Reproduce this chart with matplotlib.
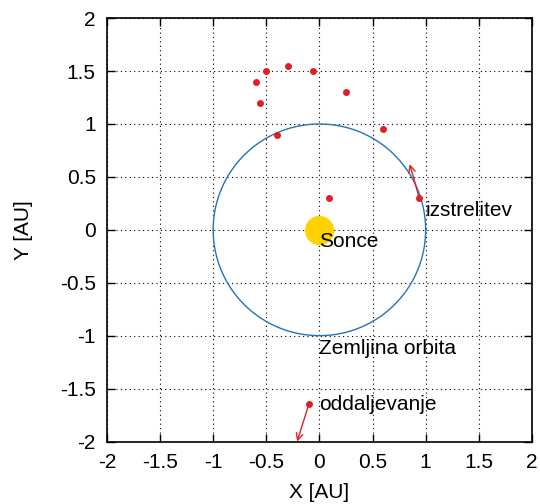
import matplotlib.pyplot as plt
import numpy as np

plt.rcParams["font.family"] = ["Liberation Sans", "DejaVu Sans"]

# asteroid positions [AU]
ast_x = [-0.5, -0.3, -0.06, -0.6, -0.56, 0.25, 0.6, -0.4, 0.09, 0.94, -0.1]
ast_y = [1.5, 1.55, 1.5, 1.4, 1.2, 1.3, 0.95, 0.9, 0.3, 0.3, -1.65]

# velocity arrows: start -> end
arr_start = [(0.94, 0.3), (-0.1, -1.65)]
arr_end = [(0.85, 0.62), (-0.21, -2.0)]

labels = ["Sonce", "izstrelitev", "Zemljina orbita", "oddaljevanje"]
label_pos = [(0.0, -0.11), (1.0, 0.18), (0.0, -1.12), (0.0, -1.65)]

ticks = np.arange(-2, 2.01, 0.5)
tick_labels = ["-2", "-1.5", "-1", "-0.5", "0", "0.5", "1", "1.5", "2"]

fig = plt.figure(figsize=(5.4, 5.04), dpi=100)
ax = fig.add_axes([0.198, 0.124, 0.787, 0.840])

# earth orbit
t = np.linspace(0, 2 * np.pi, 400)
ax.plot(np.cos(t), np.sin(t), color="#2474b8", lw=1.0, zorder=3)

# sun
ax.plot([0], [0], "o", color="#ffd200", ms=21, mec="none", zorder=4)

ax.plot(ast_x, ast_y, "o", color="#e01e24", ms=5, mec="none", zorder=5)

for (x0, y0), (x1, y1) in zip(arr_start, arr_end):
    ax.annotate("", xy=(x1, y1), xytext=(x0, y0),
                arrowprops=dict(arrowstyle="->", color="#e01e24", lw=1.0,
                                shrinkA=0, shrinkB=0, mutation_scale=12),
                zorder=5)

for txt, (x, y) in zip(labels, label_pos):
    ax.text(x, y, txt, fontsize=15, ha="left", va="center", zorder=6,
            clip_on=False)

ax.set_xlim(-2, 2)
ax.set_ylim(-2, 2)
ax.set_xticks(ticks)
ax.set_yticks(ticks)
ax.set_xticklabels(tick_labels)
ax.set_yticklabels(tick_labels)
ax.tick_params(direction="in", length=6, width=1, top=True, right=True,
               labelsize=15, pad=8)
ax.grid(True, color="black", linestyle=(0, (1, 3)), lw=0.8)
for s in ax.spines.values():
    s.set_linewidth(1.2)

ax.set_xlabel("X [AU]", fontsize=15, labelpad=8)
ax.set_ylabel("Y [AU]", fontsize=15, labelpad=19)

fig.savefig("out.png", dpi=100)
